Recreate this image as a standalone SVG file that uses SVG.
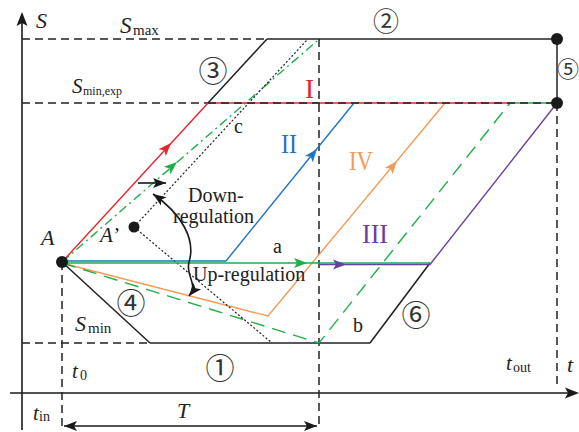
<svg xmlns="http://www.w3.org/2000/svg" xmlns:xlink="http://www.w3.org/1999/xlink" width="579" height="432" viewBox="0 0 579 432">
<style>
.ax{stroke:#1a1a1a;stroke-width:1.6;fill:none}
.bd{stroke:#222;stroke-width:1.5;fill:none}
.ds{stroke:#222;stroke-width:1.5;fill:none;stroke-dasharray:8,5}
.dot{stroke:#222;stroke-width:1.2;fill:none;stroke-dasharray:2,2}
.red{stroke:#e8232b;stroke-width:1.4;fill:none}
.grn{stroke:#1fae4a;stroke-width:1.4;fill:none}
.blu{stroke:#1f74c4;stroke-width:1.4;fill:none}
.org{stroke:#f59a55;stroke-width:1.4;fill:none}
.pur{stroke:#6b3fa0;stroke-width:1.4;fill:none}
text{font-family:"Liberation Serif","Times New Roman",serif;fill:#222}
.it{font-style:italic}
.cn{font-family:"Noto Sans CJK SC","DejaVu Sans",sans-serif;font-size:29px;text-anchor:middle;dominant-baseline:central;fill:#333}
.rn{font-size:28px}
</style>
<defs>
<path id="ah" d="M0,0 L-13,-5 L-10,0 L-13,5 Z"/>
<marker id="mk" viewBox="-14 -6 15 12" refX="0" refY="0" markerWidth="15" markerHeight="12" markerUnits="userSpaceOnUse" orient="auto-start-reverse">
<path d="M0,0 L-13,-5 L-10,0 L-13,5 Z" fill="#1a1a1a"/>
</marker>
</defs>
<g id="axes">
<line class="ax" x1="22" y1="430" x2="22" y2="14"/>
<polygon points="22,12 16.5,26 22,23 27.5,26" fill="#1a1a1a"/>
<line class="ax" x1="10" y1="393" x2="576" y2="393"/>
<polygon points="579,393 565,387.5 568,393 565,398.5" fill="#1a1a1a"/>
</g>
<g id="connectors">
<line class="ds" x1="22" y1="39" x2="267" y2="39"/>
<line class="bd" x1="267" y1="39" x2="557" y2="39"/>
<line class="ds" x1="22" y1="103" x2="208" y2="103"/>
<line class="ds" x1="22" y1="343" x2="150" y2="343"/>
<line class="bd" x1="150" y1="343" x2="370" y2="343"/>
<line class="bd" x1="370" y1="343" x2="430" y2="263"/>
<line class="bd" x1="62" y1="262" x2="150" y2="343"/>
<line class="bd" x1="208" y1="103" x2="267" y2="39"/>
<line class="bd" x1="557" y1="39" x2="557" y2="103"/>
<line class="ds" x1="557" y1="103" x2="557" y2="388"/>
<line class="ds" x1="62" y1="262" x2="62" y2="430"/>
<line class="ds" x1="319" y1="39" x2="319" y2="428"/>
<line class="ax" x1="64" y1="426" x2="317" y2="426" marker-start="url(#mk)" marker-end="url(#mk)"/>
<polyline class="org" points="62,263 268,316 445,103"/>
<polyline class="grn" points="62,263 319,343 510,103" style="stroke-dasharray:14,8"/>
<line class="grn" x1="62" y1="262" x2="317" y2="41" style="stroke-dasharray:9,4,2,4"/>
<line class="dot" x1="134" y1="227" x2="307" y2="40"/>
<line class="dot" x1="134" y1="227" x2="272" y2="343"/>
<polyline class="blu" points="62,261 226,261 354,103"/>
<polyline class="pur" points="319,264.5 430,264.5 557,103"/>
<line class="grn" x1="62" y1="263" x2="430" y2="263"/>
<line class="red" x1="62" y1="262" x2="208" y2="103"/>
<line class="red" x1="208" y1="103" x2="510" y2="103"/>
<line class="grn" x1="510" y1="103" x2="557" y2="103"/>
<line class="ds" x1="208" y1="103" x2="557" y2="103"/>
<line class="ax" x1="138" y1="183" x2="166" y2="183" marker-end="url(#mk)"/>
<path class="ax" d="M153,194 C182,214 196,240 189,262 C185,276 199,284 189,296" marker-start="url(#mk)" marker-end="url(#mk)"/>
<use xlink:href="#ah" href="#ah" transform="translate(171,143) rotate(-47.4)" fill="#e8232b"/>
<use xlink:href="#ah" href="#ah" transform="translate(177,162) rotate(-40.9)" fill="#1fae4a"/>
<use xlink:href="#ah" href="#ah" transform="translate(317,149) rotate(-51.2)" fill="#1f74c4"/>
<use xlink:href="#ah" href="#ah" transform="translate(397,161) rotate(-50.3)" fill="#f59a55"/>
<use xlink:href="#ah" href="#ah" transform="translate(307,263)" fill="#1fae4a"/>
<use xlink:href="#ah" href="#ah" transform="translate(346,264.5)" fill="#6b3fa0"/>
</g>
<g id="node-A"><circle cx="62" cy="262" r="6" fill="#1a1a1a"/><text class="it" x="41" y="245" font-size="22">A</text></g>
<g id="node-A2"><circle cx="134" cy="227" r="5.5" fill="#1a1a1a"/><text class="it" x="100" y="242" font-size="21">A’</text></g>
<g id="node-P1"><circle cx="557" cy="39" r="6" fill="#1a1a1a"/></g>
<g id="node-P2"><circle cx="557" cy="103" r="6" fill="#1a1a1a"/></g>
<g id="labels">
<text class="it" x="36" y="28" font-size="22">S</text>
<text class="it" x="120" y="33" font-size="23">S</text><text x="133" y="35" font-size="15">max</text>
<text class="it" x="72" y="93" font-size="21">S</text><text x="83" y="95" font-size="12">min,exp</text>
<text class="it" x="75" y="331" font-size="22">S</text><text x="88" y="333" font-size="15">min</text>
<text class="it" x="72" y="378" font-size="21">t</text><text x="80" y="380" font-size="14">0</text>
<text class="it" x="33" y="420" font-size="21">t</text><text x="39" y="421" font-size="14">in</text>
<text class="it" x="177" y="418" font-size="22">T</text>
<text class="it" x="506" y="370" font-size="21">t</text><text x="513" y="372" font-size="14">out</text>
<text class="it" x="567" y="372" font-size="22">t</text>
<text x="188" y="202" font-size="20">Down-</text>
<text x="173" y="223" font-size="20">regulation</text>
<text x="193" y="281" font-size="20">Up-regulation</text>
<text x="273" y="253" font-size="20">a</text>
<text x="353" y="332" font-size="20">b</text>
<text x="234" y="133" font-size="20">c</text>
<text class="rn" x="305" y="98" style="fill:#e8232b" textLength="9" lengthAdjust="spacingAndGlyphs">I</text>
<text class="rn" x="281" y="153" style="fill:#1f74c4" textLength="16" lengthAdjust="spacingAndGlyphs">II</text>
<text class="rn" x="349" y="170" style="fill:#f59a55" textLength="24" lengthAdjust="spacingAndGlyphs">IV</text>
<text class="rn" x="362" y="243" style="fill:#6b3fa0" textLength="26" lengthAdjust="spacingAndGlyphs">III</text>
<text class="cn" x="220" y="366">①</text>
<text class="cn" x="386" y="19" style="font-size:26px">②</text>
<text class="cn" x="213" y="69">③</text>
<text class="cn" x="131" y="301">④</text>
<text class="cn" x="568" y="67" style="font-size:22px">⑤</text>
<text class="cn" x="416" y="313">⑥</text>
</g>
</svg>
